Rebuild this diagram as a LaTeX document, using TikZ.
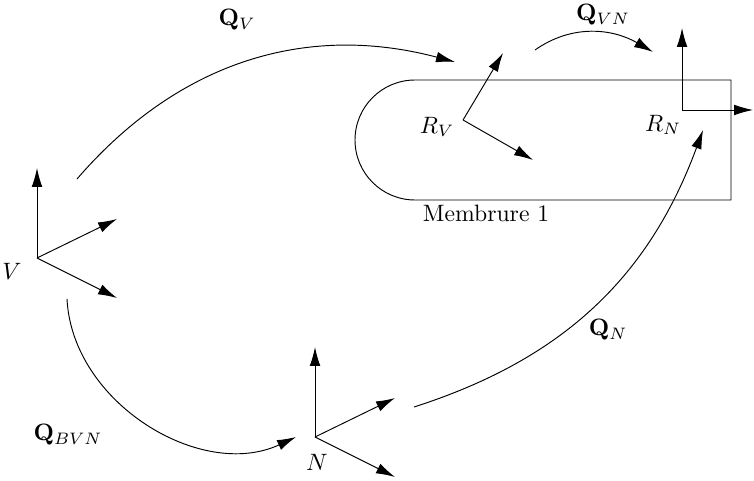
\documentclass[tikz,border=0pt]{standalone}
\usepackage{amsmath,amssymb}
\usepackage{tikz}
\usetikzlibrary{positioning,arrows.meta}
\tikzset{vec/.style={-{Latex[length=8pt,width=4.5pt]}}}

\begin{document}
\begin{tikzpicture}[scale=0.742]

\useasboundingbox (0,0) rectangle (15.08,9.6);

% --- Membrure ---
\draw (14.62,8.0) -- (8.3,8.0) arc (90:270:1.2) -- (14.62,5.6) -- cycle;
\node (memb) at (9.72,5.34) {Membrure 1};

% --- Frames V and N ---
\foreach \n/\x/\y in {V/0.74/4.44, N/6.3/0.86} {
    \coordinate (\n) at (\x,\y);
    \draw[vec] (\n) -- ++(0,1.8);
    \draw[vec] (\n) -- ++(1.6,0.78);
    \draw[vec] (\n) -- ++(1.6,-0.8);
}
\node (lblV) at (0.24,4.18) {$V$};
\node (lblN) at (6.34,0.36) {$N$};

% --- Frames on the member ---
\coordinate (RV) at (9.26,7.2);
\draw[vec] (RV) -- ++(0.8,1.34);
\draw[vec] (RV) -- ++(1.4,-0.8);
\node (lblRV) at (8.74,7.06) {$R_V$};

\coordinate (RN) at (13.64,7.4);
\draw[vec] (RN) -- ++(0,1.64);
\draw[vec] (RN) -- ++(1.42,0);
\node (lblRN) at (13.26,7.1) {$R_N$};

% --- Transformations ---
\coordinate (qv-a) at (1.54,6.02);
\coordinate (qv-b) at (9.1,8.36);
\draw[vec] (qv-a) to[bend left=32] (qv-b);
\node (QV) at (4.74,9.2) {$\mathbf{Q}_V$};

\coordinate (qvn-a) at (10.7,8.6);
\coordinate (qvn-b) at (13.06,8.56);
\draw[vec] (qvn-a) to[out=35,in=150] (qvn-b);
\node (QVN) at (12.06,9.3) {$\mathbf{Q}_{VN}$};

\coordinate (qn-a) at (8.28,1.46);
\coordinate (qn-b) at (14.06,7.0);
\draw[vec] (qn-a) to[bend right=26] (qn-b);
\node (QN) at (12.16,3.0) {$\mathbf{Q}_N$};

\coordinate (qb-a) at (1.34,3.62);
\coordinate (qb-b) at (5.92,0.86);
\draw[vec] (qb-a) to[bend right=56] (qb-b);
\node (QBVN) at (1.36,0.9) {$\mathbf{Q}_{BVN}$};

\end{tikzpicture}
\end{document}
